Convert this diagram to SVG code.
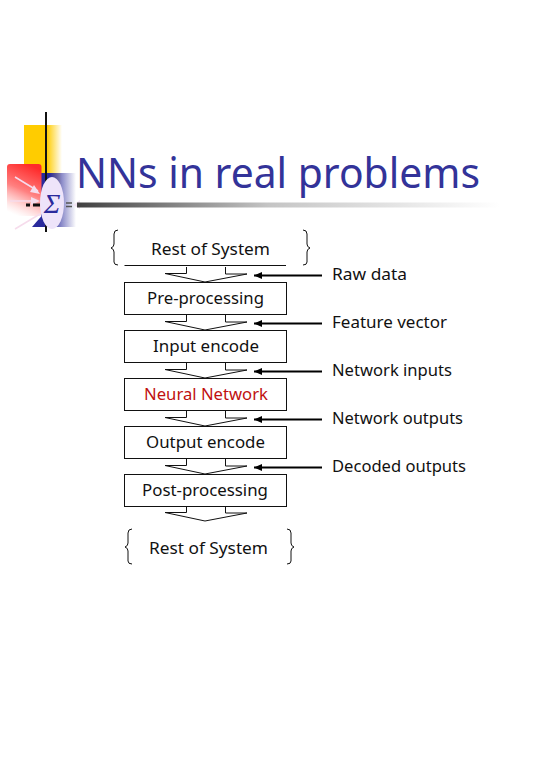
<svg xmlns="http://www.w3.org/2000/svg" width="540" height="780" viewBox="0 0 540 780">
<style>
.t{font-family:"Noto Sans","DejaVu Sans",sans-serif;font-size:17px;fill:#111}
.box{fill:#fff;stroke:#111;stroke-width:1}
.flow{fill:#fff;stroke:#111;stroke-width:1}
.brace{fill:none;stroke:#111;stroke-width:1}
.lead{stroke:#000;stroke-width:2;fill:none;marker-end:url(#ah)}
</style>
<defs>
<marker id="ah" markerUnits="userSpaceOnUse" markerWidth="9" markerHeight="8" refX="8" refY="4" orient="auto"><path d="M8 4L0 0.500V7.500Z" fill="#000"/></marker>
<linearGradient id="yl" x1="0" x2="1" y1="0" y2="0"><stop offset="0.6" stop-color="#ffcc00"/><stop offset="1" stop-color="#ffcc00" stop-opacity="0"/></linearGradient>
<linearGradient id="rd" x1="0.6" x2="0.3" y1="0" y2="1"><stop offset="0" stop-color="#ff2a2a"/><stop offset="0.5" stop-color="#ff8080"/><stop offset="1" stop-color="#ffffff" stop-opacity="0.5"/></linearGradient>
<linearGradient id="bl" x1="0" x2="1" y1="0" y2="0"><stop offset="0.25" stop-color="#2a2a9c"/><stop offset="1" stop-color="#2a2a9c" stop-opacity="0"/></linearGradient>
<linearGradient id="rule" x1="0" x2="1" y1="0" y2="0"><stop offset="0" stop-color="#404040"/><stop offset="0.45" stop-color="#c4c4c4"/><stop offset="1" stop-color="#ffffff"/></linearGradient>
<path id="fl" class="flow" d="M186.500 0V6.500H165L205 15L247 7H225.500V0"/>
</defs>
<g id="logo">
<rect x="24" y="125" width="38" height="60" fill="url(#yl)"/>
<rect x="41" y="173" width="35" height="54" fill="url(#bl)"/>
<path d="M32 227L45 212V227Z" fill="#2a2a9c"/>
<rect x="7" y="164" width="34.500" height="52" rx="3" fill="url(#rd)"/>
<path d="M46 112V232" stroke="#111" stroke-width="2" fill="none"/>
<path d="M15 177L38 191M10 201H38M15 229L40 214" stroke="#f6dcec" stroke-width="1.500" fill="none"/>
<path d="M40 194L30 192L34 185ZM40 201L31 197V205Z" fill="#f6dcec"/>
<path d="M26 205H30M33 205H40" stroke="#111" stroke-width="3" fill="none"/>
<ellipse cx="52" cy="203" rx="12" ry="26" fill="#eee4fa"/>
<text x="52" y="213" text-anchor="middle" font-family="Liberation Serif,serif" font-size="28" font-style="italic" fill="#2a2a9c">Σ</text>
<path d="M66 203H72M66 206.500H72" stroke="#555" stroke-width="1.500" fill="none"/>
<path d="M73 205L80 200V209Z" fill="#f3e4f3"/>
</g>
<g id="title">
<rect x="77" y="202.500" width="423" height="5" fill="url(#rule)"/>
<text x="76" y="188" font-family="Noto Sans,DejaVu Sans,sans-serif" font-size="42" fill="#333399" textLength="404" lengthAdjust="spacingAndGlyphs">NNs in real problems</text>
</g>
<g id="connectors">
<use href="#fl" y="267"/><use href="#fl" y="315"/><use href="#fl" y="363"/><use href="#fl" y="411"/><use href="#fl" y="459"/><use href="#fl" y="506"/>
<path class="lead" d="M322 275.500H254"/><path class="lead" d="M322 323.500H254"/><path class="lead" d="M322 371.500H254"/><path class="lead" d="M322 419.500H254"/><path class="lead" d="M322 467.500H254"/>
</g>
<g id="rest-top">
<path class="brace" d="M124.500 265.500H286"/>
<path class="brace" d="M118 230Q114 230 114 234V244Q114 247 111 248Q114 249 114 252V262Q114 265 118 265"/>
<path class="brace" d="M303 230Q307 230 307 234V244Q307 247 310 248Q307 249 307 252V262Q307 265 303 265"/>
<text class="t" x="151" y="255" textLength="119" lengthAdjust="spacingAndGlyphs">Rest of System</text>
</g>
<g id="pre"><rect class="box" x="124.500" y="282.500" width="162" height="32"/><text class="t" x="147" y="304" textLength="117" lengthAdjust="spacingAndGlyphs">Pre-processing</text></g>
<g id="input"><rect class="box" x="124.500" y="330.500" width="162" height="32"/><text class="t" x="153" y="352" textLength="106" lengthAdjust="spacingAndGlyphs">Input encode</text></g>
<g id="nn"><rect class="box" x="124.500" y="378.500" width="162" height="32"/><text class="t" x="144" y="400" textLength="124" lengthAdjust="spacingAndGlyphs" style="fill:#c01010">Neural Network</text></g>
<g id="output"><rect class="box" x="124.500" y="426.500" width="162" height="32"/><text class="t" x="146" y="448" textLength="119" lengthAdjust="spacingAndGlyphs">Output encode</text></g>
<g id="post"><rect class="box" x="124.500" y="474.500" width="162" height="32"/><text class="t" x="142" y="496" textLength="126" lengthAdjust="spacingAndGlyphs">Post-processing</text></g>
<g id="rest-bottom">
<path class="brace" d="M132 529Q128 529 128 533V543Q128 546 125 547Q128 548 128 551V561Q128 564 132 564"/>
<path class="brace" d="M287 529Q291 529 291 533V543Q291 546 294 547Q291 548 291 551V561Q291 564 287 564"/>
<text class="t" x="149" y="554" textLength="119" lengthAdjust="spacingAndGlyphs">Rest of System</text>
</g>
<g id="labels">
<text class="t" x="332" y="280" textLength="75" lengthAdjust="spacingAndGlyphs">Raw data</text>
<text class="t" x="332" y="328" textLength="115" lengthAdjust="spacingAndGlyphs">Feature vector</text>
<text class="t" x="332" y="376" textLength="120" lengthAdjust="spacingAndGlyphs">Network inputs</text>
<text class="t" x="332" y="424" textLength="131" lengthAdjust="spacingAndGlyphs">Network outputs</text>
<text class="t" x="332" y="472" textLength="134" lengthAdjust="spacingAndGlyphs">Decoded outputs</text>
</g>
</svg>
